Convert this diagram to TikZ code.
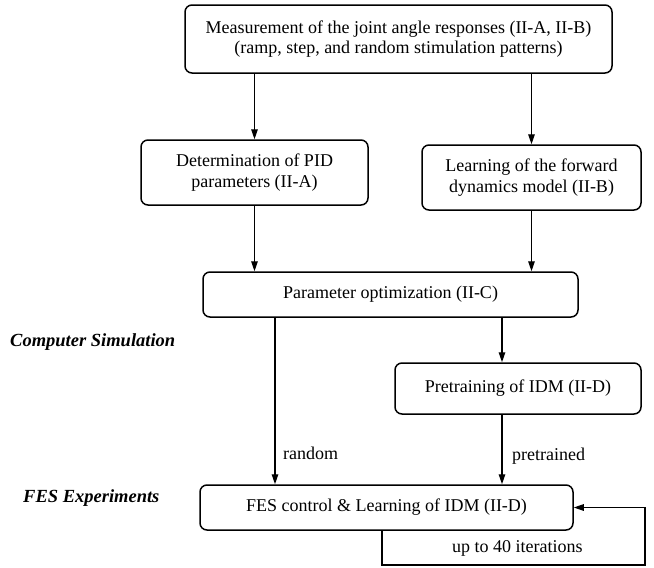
\documentclass[tikz,border=0pt]{standalone}
\usepackage{fontspec}
\setmainfont{Liberation Serif}
\usetikzlibrary{arrows.meta,calc}
\tikzset{
  box/.style={draw=black, line width=1.5pt, rounded corners=7pt, align=center, inner sep=0pt,
    font=\fontsize{18}{20.5}\selectfont},
  arr/.style={line width=1.3pt, -{Triangle[length=10pt,width=6.5pt]}},
  lbl/.style={anchor=west, inner sep=0pt, font=\fontsize{18}{20.5}\selectfont},
  side/.style={anchor=west, inner sep=0pt, font=\fontsize{18.5}{21}\selectfont\bfseries\itshape}
}
\begin{document}
\begin{tikzpicture}[x=1pt,y=-1pt]
\useasboundingbox (0,0) rectangle (654,568);
\node[box, minimum width=427pt, minimum height=68pt] (top) at (398.5,39)
  {Measurement of the joint angle responses (II-A, II-B)\\(ramp, step, and random stimulation patterns)};
\node[box, minimum width=227pt, minimum height=65pt] (left) at (254.5,172.5)
  {Determination of PID\\parameters (II-A)};
\node[box, minimum width=219pt, minimum height=65pt] (right) at (531.5,177.5)
  {Learning of the forward\\dynamics model (II-B)};
\node[box, minimum width=375pt, minimum height=45pt] (param) at (390.5,294.5)
  {Parameter optimization (II-C)};
\node[box, minimum width=246pt, minimum height=51pt] (pre) at (518,388.5)
  {Pretraining of IDM (II-D)};
\node[box, minimum width=373pt, minimum height=45pt] (fes) at (386.5,507.5)
  {FES control \& Learning of IDM (II-D)};
\node[side] (cs) at (10,342) {Computer Simulation};
\node[side] (fe) at (23,498) {FES Experiments};
\node[lbl] (rnd) at (283,453) {random};
\node[lbl] (ptr) at (512,456) {pretrained};
\node[lbl] (it) at (452,548) {up to 40 iterations};
\coordinate (c1) at (502,0);
\coordinate (c2) at (275,0);
\coordinate (lb) at (382,565);
\coordinate (rb) at (645,565);
\draw[arr] (top.south -| left.north) -- (left.north);
\draw[arr] (top.south -| right.north) -- (right.north);
\draw[arr] (left.south) -- (left.south |- param.north);
\draw[arr] (right.south) -- (right.south |- param.north);
\draw[arr] (param.south -| c1) -- (pre.north -| c1);
\draw[arr] (param.south -| c2) -- (fes.north -| c2);
\draw[arr] (pre.south -| c1) -- (fes.north -| c1);
\draw[arr] (fes.south -| lb) -- (lb) -- (rb) -- (rb |- fes.east) -- (fes.east);
\end{tikzpicture}
\end{document}
